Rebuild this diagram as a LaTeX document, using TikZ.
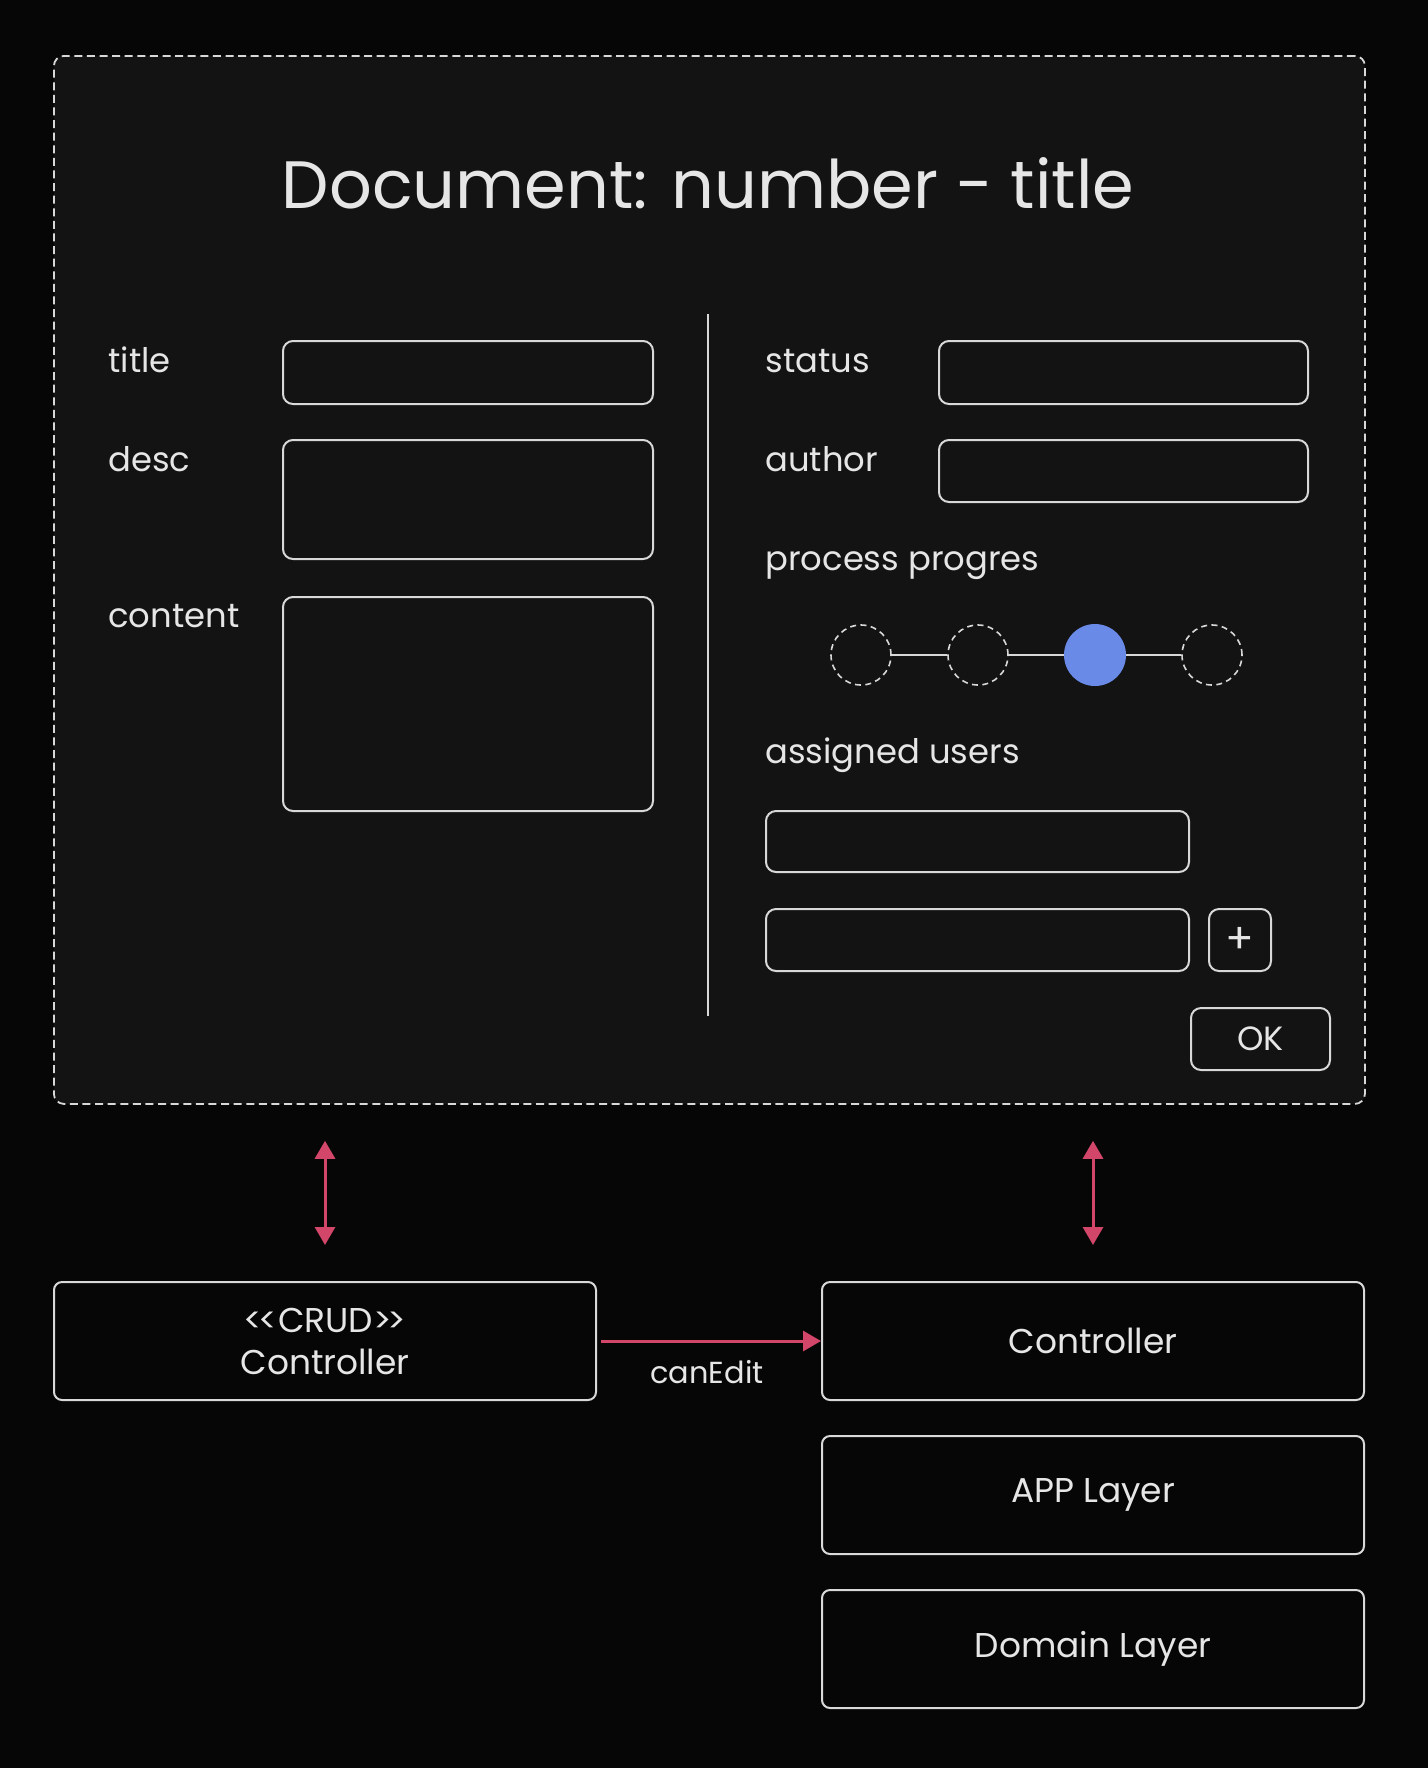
\documentclass[tikz,border=0pt]{standalone}
\usepackage{fontspec}
\setmainfont{Poppins}
\usetikzlibrary{arrows.meta}
\definecolor{bg}{HTML}{060606}
\definecolor{panel}{HTML}{131313}
\definecolor{ink}{HTML}{E6E6E6}
\definecolor{edge}{HTML}{D8D8D8}
\definecolor{accent}{HTML}{D2466A}
\definecolor{dot}{HTML}{6A8AE8}
\tikzset{
  lbl/.style={text=ink, font=\fontsize{16.9}{20}\selectfont, anchor=base west, inner sep=0pt},
  field/.style={draw=edge, line width=1pt, rounded corners=5pt, anchor=north west, inner sep=0pt},
  layerbox/.style={draw=edge, line width=1pt, rounded corners=4pt, anchor=north west, inner sep=0pt,
    minimum width=271pt, minimum height=59pt, text=ink, align=center,
    font=\fontsize{17.2}{21}\selectfont},
  stepdot/.style={circle, draw=edge, line width=0.8pt, dash pattern=on 3pt off 2.2pt, minimum size=30pt, inner sep=0pt},
  stepfill/.style={circle, fill=dot, minimum size=31pt, inner sep=0pt},
  link/.style={draw=edge, line width=1.1pt},
  flow/.style={draw=accent, line width=1.5pt, -{Triangle[length=9pt,width=10pt]}},
  twoway/.style={draw=accent, line width=1.5pt, {Triangle[length=9pt,width=10pt]}-{Triangle[length=9pt,width=10pt]}}
}
\begin{document}
\begin{tikzpicture}[x=0.5pt, y=-0.5pt]
\useasboundingbox (0,0) rectangle (1428,1768);
\fill[bg] (0,0) rectangle (1428,1768);

% form panel
\node[draw=edge, fill=panel, line width=0.9pt, dash pattern=on 4pt off 2.3pt, rounded corners=5pt,
      anchor=north west, inner sep=0pt, minimum width=655.5pt, minimum height=524pt] (form) at (53,55) {};
\node[text=ink, font=\fontsize{33.5}{40}\selectfont, anchor=base, inner sep=0pt] (head) at (708,208) {Document: number - title};

% divider
\coordinate (divtop) at (708,314);
\coordinate (divbot) at (708,1016);
\draw[edge, line width=0.9pt] (divtop) -- (divbot);

% left column
\node[lbl] (ltitle) at (108,372) {title};
\node[lbl] (ldesc) at (108,471) {desc};
\node[lbl] (lcontent) at (108,627) {content};
\node[field, minimum width=185pt, minimum height=31.5pt] (ftitle) at (282,340) {};
\node[field, minimum width=185pt, minimum height=59.5pt] (fdesc) at (282,439) {};
\node[field, minimum width=185pt, minimum height=107pt] (fcontent) at (282,596) {};

% right column
\node[lbl] (lstatus) at (765,372) {status};
\node[lbl] (lauthor) at (765,471) {author};
\node[lbl] (lprog) at (765,570) {process progres};
\node[lbl] (lusers) at (765,763) {assigned users};
\node[field, minimum width=184.5pt, minimum height=31.5pt] (fstatus) at (938,340) {};
\node[field, minimum width=184.5pt, minimum height=31pt] (fauthor) at (938,439) {};

% progress steps
\node[stepdot] (s1) at (861,655) {};
\node[stepdot] (s2) at (978,655) {};
\node[stepfill] (s3) at (1095,655) {};
\node[stepdot] (s4) at (1212,655) {};
\draw[link] (s1) -- (s2);
\draw[link] (s2) -- (s3);
\draw[link] (s3) -- (s4);

% assigned users
\node[field, minimum width=211.5pt, minimum height=30.5pt] (fuser1) at (765,810) {};
\node[field, minimum width=211.5pt, minimum height=31pt] (fuser2) at (765,908) {};
\node[field, minimum width=31pt, minimum height=31pt, text=ink, font=\fontsize{21}{22}\selectfont] (plus) at (1208,908) {+};
\node[field, minimum width=69.5pt, minimum height=31pt, text=ink, font=\fontsize{16.8}{20}\selectfont] (ok) at (1190,1007) {OK};

% layers
\node[layerbox] (crud) at (53,1281) {<\kern-2pt<CRUD>\kern-2pt>\\Controller};
\node[layerbox] (ctrl) at (821,1281) {Controller};
\node[layerbox] (app) at (821,1435) {APP Layer};
\node[layerbox] (domain) at (821,1589) {Domain Layer};

% connectors
\draw[twoway, shorten <=18pt, shorten >=18pt] (form.south -| crud.north) -- (crud.north);
\draw[twoway, shorten <=18pt, shorten >=18pt] (form.south -| ctrl.north) -- (ctrl.north);
\draw[flow, shorten <=2pt] (crud.east) -- (ctrl.west);
\node[text=ink, font=\fontsize{15.2}{18}\selectfont, anchor=base, inner sep=0pt] (canedit) at (707,1383) {canEdit};
\end{tikzpicture}
\end{document}
